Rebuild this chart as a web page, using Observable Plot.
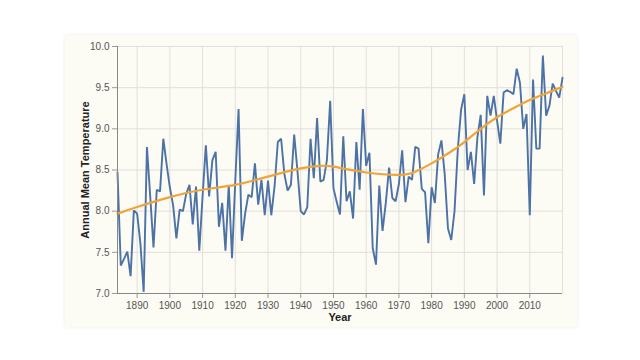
<!DOCTYPE html>
<html>
<head>
<meta charset="utf-8">
<script src="https://cdn.jsdelivr.net/npm/d3@7"></script>
<script src="https://cdn.jsdelivr.net/npm/@observablehq/plot@0.6"></script>
<style>
  html, body { margin: 0; padding: 0; background: #ffffff; }
  body { width: 640px; height: 360px; position: relative; overflow: hidden; font-family: "Liberation Sans", Arial, sans-serif; }
  #panel { position: absolute; left: 65px; top: 35px; width: 512px; height: 292px; background: #fcfbf4; box-shadow: 0 0 4px rgba(0,0,0,0.08); }
  #chart { position: absolute; left: 0; top: 0; }
</style>
</head>
<body>
<div id="panel"></div>
<div id="chart"></div>
<script>
const years = [1884,1885,1886,1887,1888,1889,1890,1891,1892,1893,1894,1895,1896,1897,1898,1899,
  1900,1901,1902,1903,1904,1905,1906,1907,1908,1909,1910,1911,1912,1913,1914,1915,1916,1917,1918,1919,
  1920,1921,1922,1923,1924,1925,1926,1927,1928,1929,1930,1931,1932,1933,1934,1935,1936,1937,1938,1939,
  1940,1941,1942,1943,1944,1945,1946,1947,1948,1949,1950,1951,1952,1953,1954,1955,1956,1957,1958,1959,
  1960,1961,1962,1963,1964,1965,1966,1967,1968,1969,1970,1971,1972,1973,1974,1975,1976,1977,1978,1979,
  1980,1981,1982,1983,1984,1985,1986,1987,1988,1989,1990,1991,1992,1993,1994,1995,1996,1997,1998,1999,
  2000,2001,2002,2003,2004,2005,2006,2007,2008,2009,2010,2011,2012,2013,2014,2015,2016,2017,2018,2019,2020];

const temps = [8.47,7.34,7.42,7.51,7.21,8.01,7.97,7.61,7.02,8.78,8.18,7.56,8.26,8.24,8.88,8.57,
  8.29,8.07,7.67,8.02,8.00,8.21,8.32,7.84,8.30,7.52,8.18,8.80,8.18,8.62,8.72,7.81,8.10,7.52,8.32,7.43,
  8.37,9.24,7.64,7.97,8.20,8.17,8.58,8.08,8.38,7.95,8.37,7.95,8.30,8.84,8.88,8.45,8.25,8.32,8.93,8.49,
  8.00,7.96,8.05,8.88,8.40,9.13,8.36,8.38,8.62,9.34,8.28,8.11,7.96,8.91,8.12,8.24,7.91,8.84,8.26,9.24,
  8.55,8.71,7.55,7.35,8.31,7.76,8.10,8.53,8.16,8.12,8.33,8.74,8.11,8.42,8.38,8.78,8.76,8.27,8.23,7.61,
  8.29,8.10,8.69,8.86,8.45,7.79,7.65,8.00,8.75,9.23,9.42,8.50,8.72,8.33,8.90,9.17,8.19,9.40,9.16,9.40,
  9.10,8.82,9.44,9.47,9.45,9.42,9.73,9.56,9.00,9.18,7.95,9.60,8.76,8.76,9.89,9.16,9.28,9.55,9.46,9.38,9.62];

// smoothed trend
const trendYears = [1884,1890,1900,1910,1920,1930,1940,1946,1950,1960,1970,1975,1980,1985,1990,1995,2000,2005,2010,2015,2020];
const trendTemps = [7.97,8.05,8.17,8.26,8.32,8.42,8.52,8.55,8.54,8.47,8.44,8.48,8.58,8.70,8.84,9.00,9.14,9.25,9.35,9.43,9.51];

const yTicks = [7.0,7.5,8.0,8.5,9.0,9.5,10.0];
const xTicks = [1890,1900,1910,1920,1930,1940,1950,1960,1970,1980,1990,2000,2010];

const data = years.map((y, i) => ({year: y, temp: temps[i]}));
const trend = trendYears.map((y, i) => ({year: y, temp: trendTemps[i]}));

const chart = Plot.plot({
  width: 640,
  height: 360,
  marginLeft: 117,
  marginRight: 78,
  marginTop: 46,
  marginBottom: 67,
  style: {background: "transparent", fontFamily: "'Liberation Sans', Arial, sans-serif", fontSize: "10px", color: "#555"},
  x: {domain: [1884, 2020]},
  y: {domain: [7, 10]},
  marks: [
    Plot.gridX(xTicks, {stroke: "#e2dfd8", strokeOpacity: 1}),
    Plot.gridY(yTicks, {stroke: "#e2dfd8", strokeOpacity: 1}),
    Plot.ruleX([2020], {stroke: "#e2dfd8", strokeOpacity: 1}),
    Plot.line(data, {x: "year", y: "temp", stroke: "#4c72a6", strokeWidth: 1.9, strokeLinejoin: "miter"}),
    Plot.line(trend, {x: "year", y: "temp", stroke: "#efa43a", strokeWidth: 2.2, curve: "natural"}),
    Plot.axisX(xTicks, {tickFormat: d => String(d), tickSize: 5, tickPadding: 3, stroke: "#999", fill: "#555", fontSize: 10,
      label: "Year", labelAnchor: "center", labelArrow: "none", labelOffset: 27}),
    Plot.axisY(yTicks, {tickFormat: d3.format(".1f"), tickSize: 5, tickPadding: 3, stroke: "#999", fill: "#555", fontSize: 10,
      label: "Annual Mean Temperature", labelAnchor: "center", labelArrow: "none", labelOffset: 36}),
    Plot.ruleX([1884], {stroke: "#888", strokeWidth: 1}),
    Plot.ruleY([7], {stroke: "#888", strokeWidth: 1})
  ]
});
document.getElementById("chart").appendChild(chart);
// make axis titles bold and dark like the reference
chart.querySelectorAll("[aria-label='x-axis label'] text, [aria-label='y-axis label'] text").forEach(t => {
  t.style.fontWeight = "bold";
  t.style.fontSize = "11px";
  t.style.fill = "#222";
});
</script>
</body>
</html>
